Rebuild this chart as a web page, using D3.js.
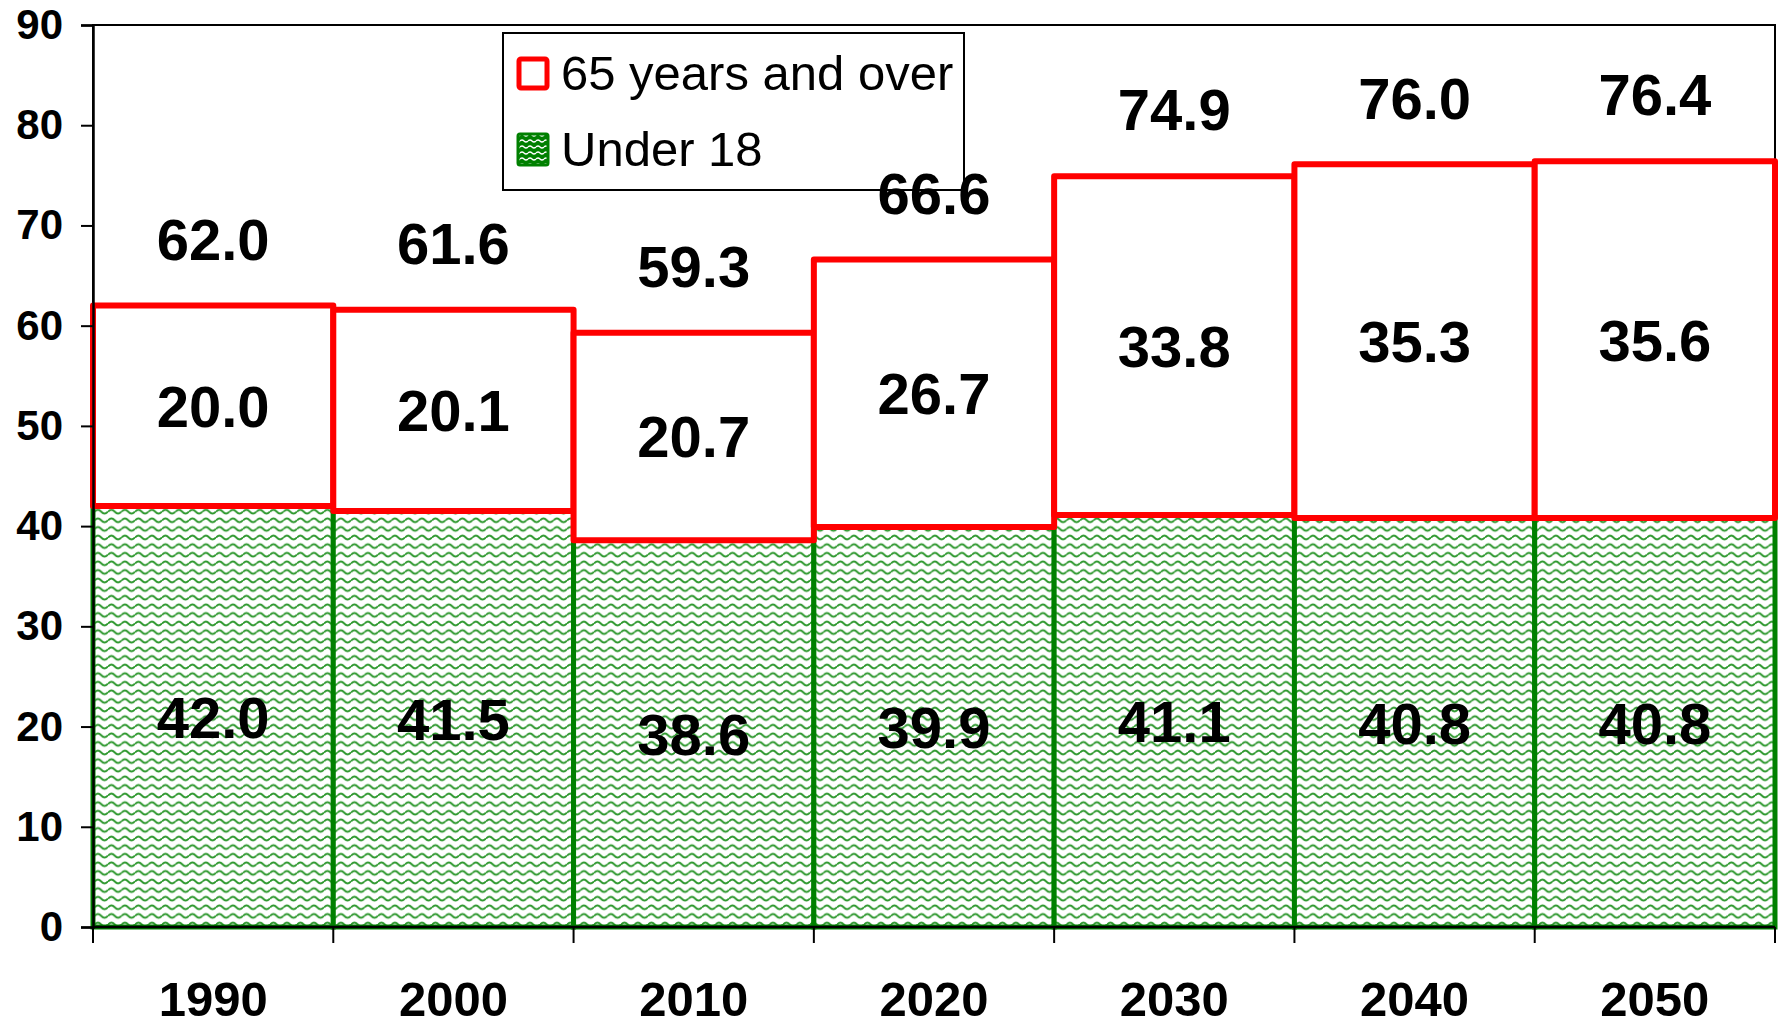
<!DOCTYPE html>
<html>
<head>
<meta charset="utf-8">
<script src="https://cdn.jsdelivr.net/npm/d3@7/dist/d3.min.js"></script>
<style>
  html, body { margin: 0; padding: 0; background: #fff; }
  svg { display: block; font-family: "Liberation Sans", Arial, sans-serif; }
</style>
</head>
<body>
<svg id="chart" width="1783" height="1025"></svg>
<script>
// Population ratios per 100 persons aged 18-64
const years = ["1990", "2000", "2010", "2020", "2030", "2040", "2050"];
const under18 = [42.0, 41.5, 38.6, 39.9, 41.1, 40.8, 40.8];
const over65 = [20.0, 20.1, 20.7, 26.7, 33.8, 35.3, 35.6];
const totals = [62.0, 61.6, 59.3, 66.6, 74.9, 76.0, 76.4];
const yTicks = [0, 10, 20, 30, 40, 50, 60, 70, 80, 90];
const seriesNames = ["65 years and over", "Under 18"];

const svg = d3.select("#chart");
const margin = { left: 93, right: 8, top: 25, bottom: 98 };
const W = 1783, H = 1025;
const plotW = W - margin.left - margin.right;
const plotH = H - margin.top - margin.bottom;

const x = d3.scaleBand().domain(years).range([margin.left, margin.left + plotW]).padding(0);
const y = d3.scaleLinear().domain([0, 90]).range([margin.top + plotH, margin.top]);

// Wavy hatch used for the "Under 18" fill
const defs = svg.append("defs");
const pat = defs.append("pattern")
  .attr("id", "wave")
  .attr("patternUnits", "userSpaceOnUse")
  .attr("width", 13.5).attr("height", 8.6);
pat.append("rect").attr("width", 13.5).attr("height", 8.6).attr("fill", "#fff");
pat.append("path")
  .attr("d", "M0,4.3 Q3.375,0.6 6.75,4.3 T13.5,4.3")
  .attr("fill", "none")
  .attr("stroke", "#2a962a")
  .attr("stroke-width", 1.8);

const patSmall = defs.append("pattern")
  .attr("id", "waveSmall")
  .attr("patternUnits", "userSpaceOnUse")
  .attr("width", 8).attr("height", 6);
patSmall.append("rect").attr("width", 8).attr("height", 6).attr("fill", "#008000");
patSmall.append("path")
  .attr("d", "M0,3 Q2,1 4,3 T8,3")
  .attr("fill", "none")
  .attr("stroke", "#fff")
  .attr("stroke-width", 1.3);

// Stack the two series
const rows = years.map((yr, i) => ({ year: yr, under18: under18[i], over65: over65[i], total: totals[i] }));
const stack = d3.stack().keys(["under18", "over65"])(rows);

// Plot frame (top and right edges)
svg.append("rect")
  .attr("x", margin.left).attr("y", margin.top)
  .attr("width", plotW).attr("height", plotH)
  .attr("fill", "none").attr("stroke", "#000").attr("stroke-width", 2);

// Under 18 bars
svg.append("g").selectAll("rect")
  .data(stack[0]).join("rect")
  .attr("x", d => x(d.data.year))
  .attr("y", d => y(d[1]))
  .attr("width", x.bandwidth())
  .attr("height", d => y(d[0]) - y(d[1]))
  .attr("fill", "url(#wave)")
  .attr("stroke", "#008000")
  .attr("stroke-width", 5);

// 65 and over bars
svg.append("g").selectAll("rect")
  .data(stack[1]).join("rect")
  .attr("x", d => x(d.data.year))
  .attr("y", d => y(d[1]))
  .attr("width", x.bandwidth())
  .attr("height", d => y(d[0]) - y(d[1]))
  .attr("fill", "#fff")
  .attr("stroke", "#ff0000")
  .attr("stroke-width", 6)
  .attr("stroke-linejoin", "round");

// Axes
const yAxis = d3.axisLeft(y).tickValues(yTicks).tickSize(12).tickPadding(18).tickFormat(d3.format("d"));
const gy = svg.append("g").attr("transform", `translate(${margin.left},0)`).call(yAxis);
gy.select(".domain").attr("stroke-width", 2.5);
gy.selectAll(".tick line").attr("stroke-width", 2);
gy.selectAll(".tick text")
  .attr("font-family", "'Liberation Sans', Arial, sans-serif")
  .attr("font-size", 42).attr("font-weight", "bold").attr("fill", "#000");

const edges = x.domain().map(d => x(d)).concat([margin.left + plotW]);
const gx = svg.append("g").attr("transform", `translate(0,${margin.top + plotH})`);
gx.append("line")
  .attr("x1", margin.left).attr("x2", margin.left + plotW)
  .attr("stroke", "#000").attr("stroke-width", 2.5);
gx.selectAll("line.tk").data(edges).join("line")
  .attr("class", "tk")
  .attr("x1", d => d).attr("x2", d => d)
  .attr("y1", 0).attr("y2", 16)
  .attr("stroke", "#000").attr("stroke-width", 2);
gx.selectAll("text").data(years).join("text")
  .attr("x", d => x(d) + x.bandwidth() / 2)
  .attr("y", 89)
  .attr("text-anchor", "middle")
  .attr("font-size", 49).attr("font-weight", "bold")
  .text(d => d);

// Legend
const lg = svg.append("g");
lg.append("rect")
  .attr("x", 503).attr("y", 33).attr("width", 461).attr("height", 157)
  .attr("fill", "#fff").attr("stroke", "#000").attr("stroke-width", 2);
lg.append("rect")
  .attr("x", 519).attr("y", 59).attr("width", 28).attr("height", 29)
  .attr("rx", 2)
  .attr("fill", "#fff").attr("stroke", "#ff0000").attr("stroke-width", 5);
lg.append("rect")
  .attr("x", 518).attr("y", 134).attr("width", 30).attr("height", 31)
  .attr("rx", 2)
  .attr("fill", "url(#waveSmall)").attr("stroke", "#008000").attr("stroke-width", 3);
lg.append("text").attr("x", 561).attr("y", 90)
  .attr("font-size", 49).text(seriesNames[0]);
lg.append("text").attr("x", 561).attr("y", 166)
  .attr("font-size", 49).text(seriesNames[1]);

// Value labels
const labels = svg.append("g")
  .attr("text-anchor", "middle")
  .attr("font-size", 58).attr("font-weight", "bold").attr("fill", "#000");
labels.selectAll("text.u").data(stack[0]).join("text")
  .attr("class", "u")
  .attr("x", d => x(d.data.year) + x.bandwidth() / 2)
  .attr("y", d => (y(d[0]) + y(d[1])) / 2 + 21)
  .text(d => d.data.under18.toFixed(1));
labels.selectAll("text.o").data(stack[1]).join("text")
  .attr("class", "o")
  .attr("x", d => x(d.data.year) + x.bandwidth() / 2)
  .attr("y", d => (y(d[0]) + y(d[1])) / 2 + 21)
  .text(d => d.data.over65.toFixed(1));
labels.selectAll("text.t").data(rows).join("text")
  .attr("class", "t")
  .attr("x", d => x(d.year) + x.bandwidth() / 2)
  .attr("y", d => y(d.total) - 46)
  .text(d => d.total.toFixed(1));
</script>
</body>
</html>
